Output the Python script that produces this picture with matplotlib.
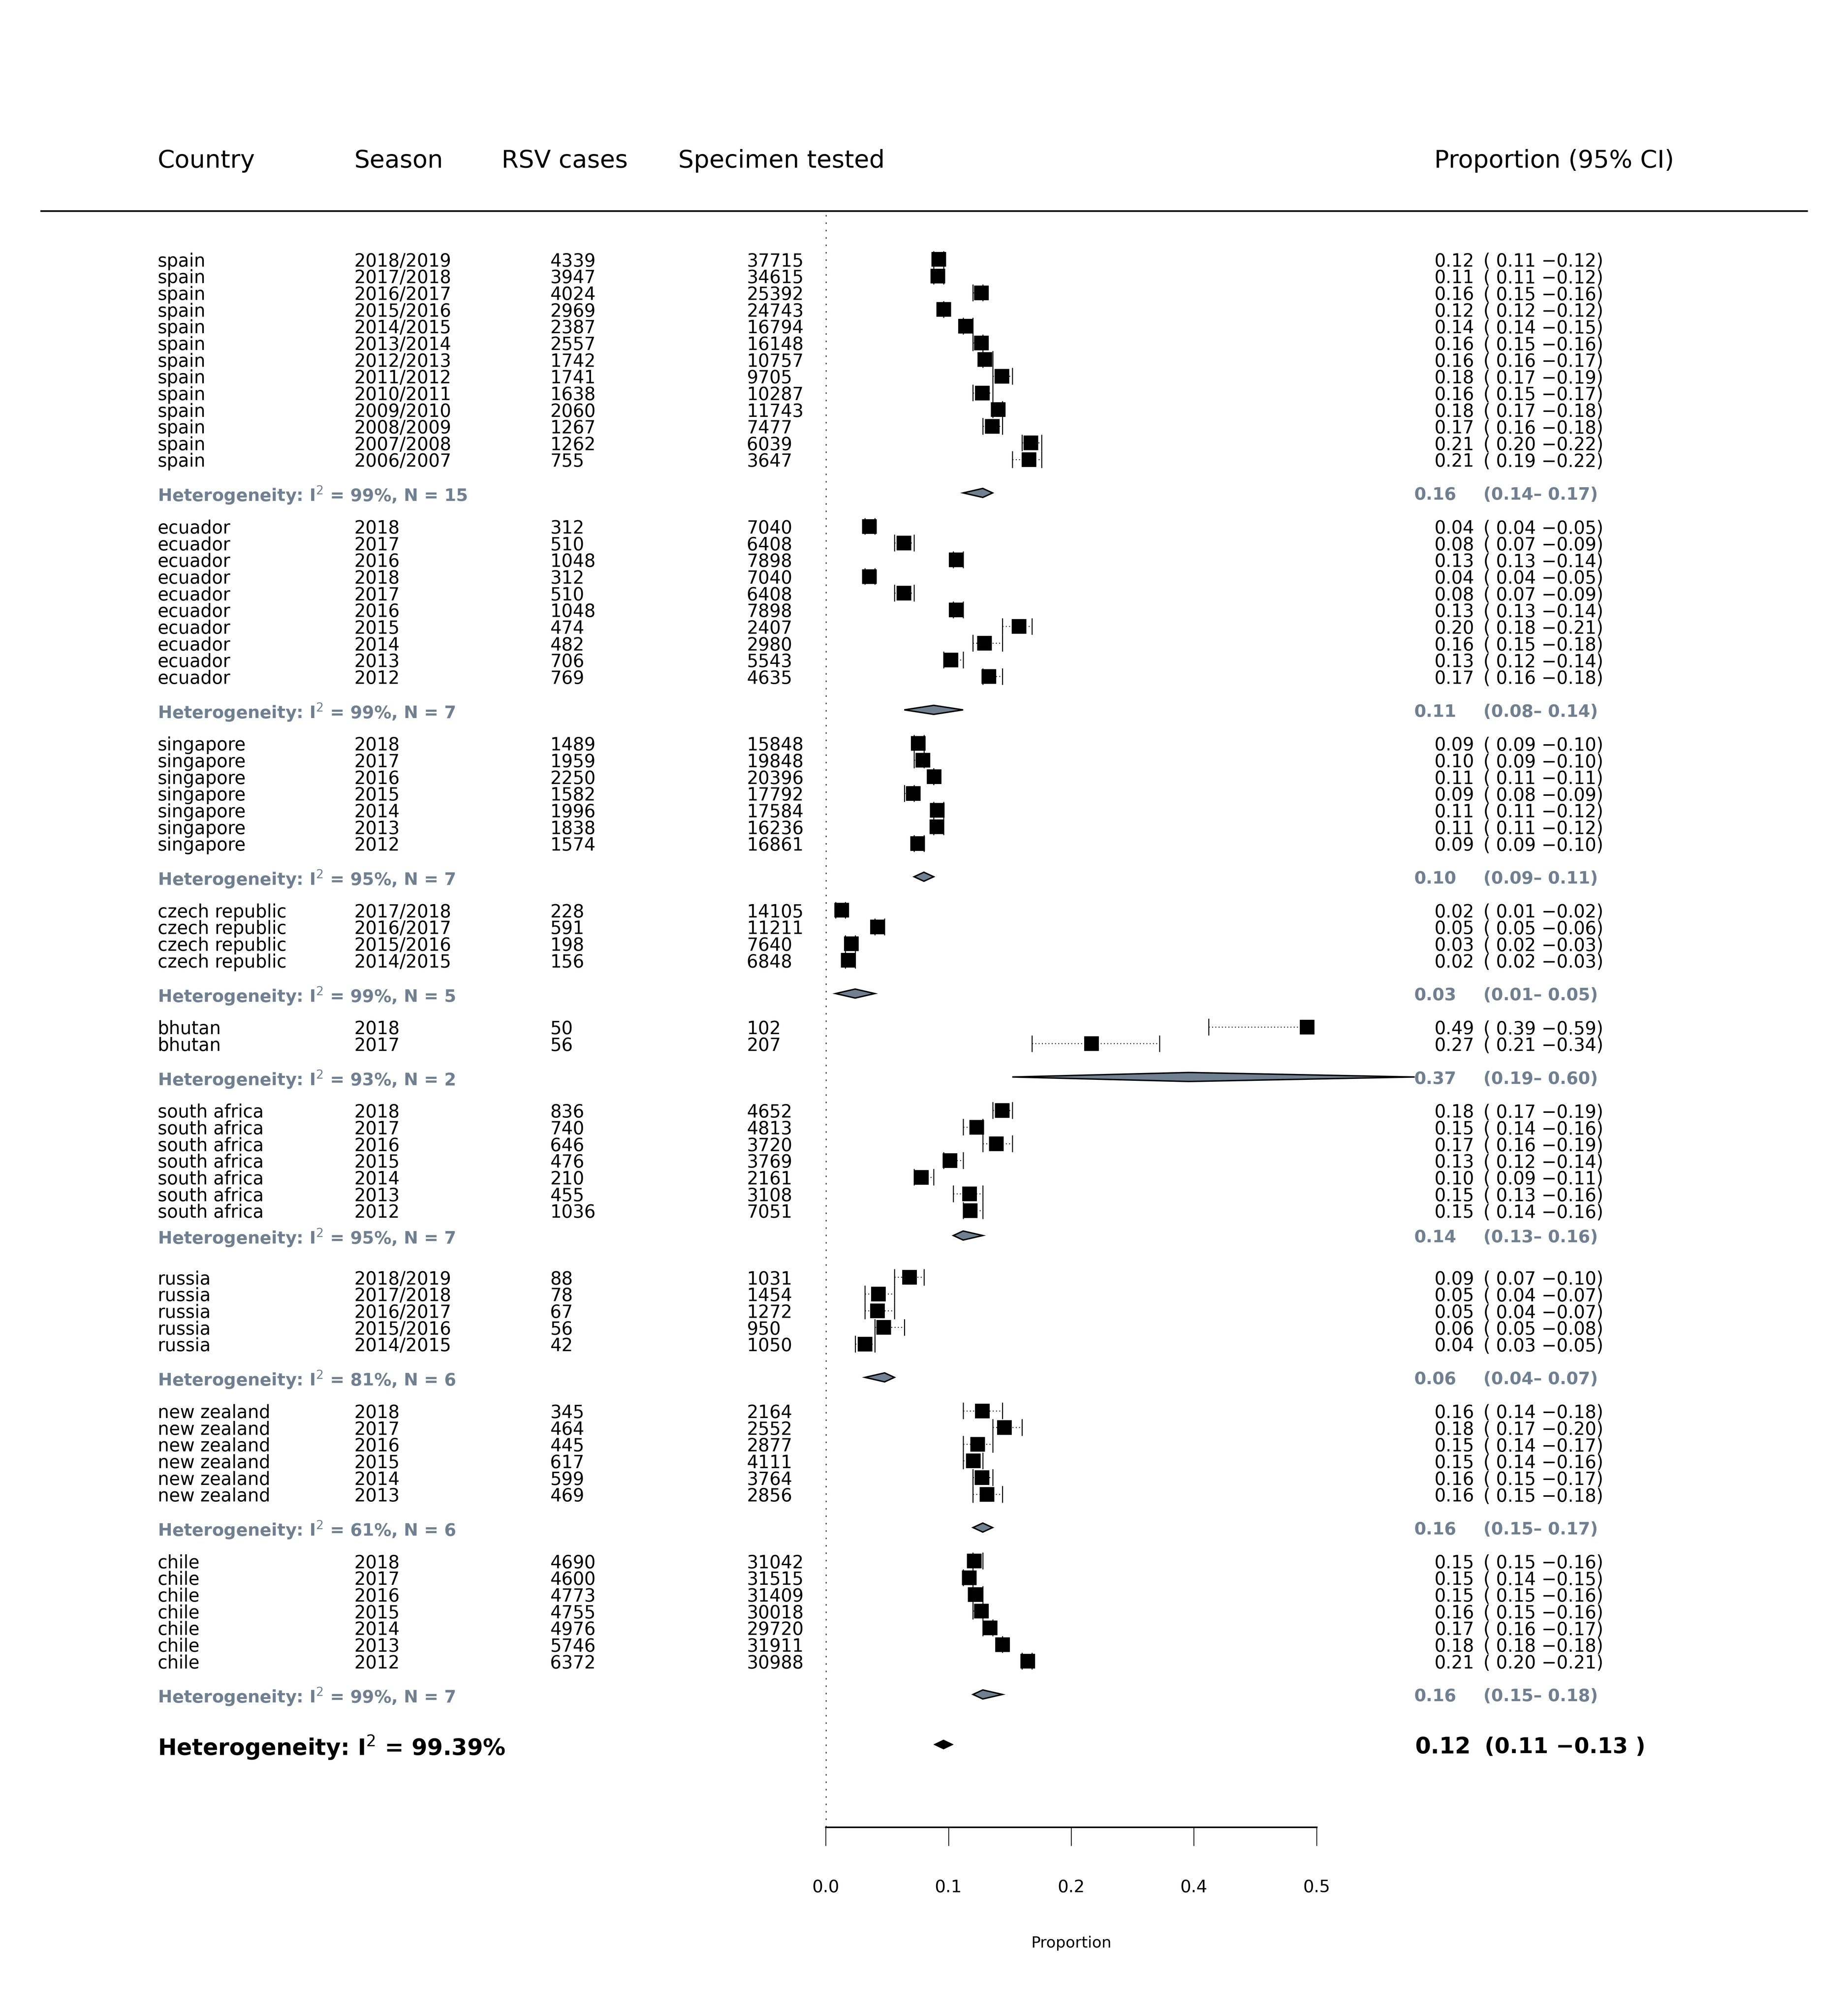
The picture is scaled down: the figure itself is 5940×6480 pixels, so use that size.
import numpy as np
import matplotlib
matplotlib.use("Agg")
import matplotlib.pyplot as plt
import matplotlib.transforms as mtransforms
from matplotlib.patches import Polygon
from matplotlib.lines import Line2D

plt.rcParams['font.family'] = ['DejaVu Sans']
plt.rcParams['mathtext.fontset'] = 'dejavusans'

# ------------------------------------------------------------
# data
# ------------------------------------------------------------
countries = ["spain", "ecuador", "singapore", "czech republic", "bhutan",
             "south africa", "russia", "new zealand", "chile"]

seasons = [
    ["2018/2019", "2017/2018", "2016/2017", "2015/2016", "2014/2015", "2013/2014",
     "2012/2013", "2011/2012", "2010/2011", "2009/2010", "2008/2009", "2007/2008",
     "2006/2007"],
    ["2018", "2017", "2016", "2018", "2017", "2016", "2015", "2014", "2013", "2012"],
    ["2018", "2017", "2016", "2015", "2014", "2013", "2012"],
    ["2017/2018", "2016/2017", "2015/2016", "2014/2015"],
    ["2018", "2017"],
    ["2018", "2017", "2016", "2015", "2014", "2013", "2012"],
    ["2018/2019", "2017/2018", "2016/2017", "2015/2016", "2014/2015"],
    ["2018", "2017", "2016", "2015", "2014", "2013"],
    ["2018", "2017", "2016", "2015", "2014", "2013", "2012"],
]

rsv_cases = [
    [4339, 3947, 4024, 2969, 2387, 2557, 1742, 1741, 1638, 2060, 1267, 1262, 755],
    [312, 510, 1048, 312, 510, 1048, 474, 482, 706, 769],
    [1489, 1959, 2250, 1582, 1996, 1838, 1574],
    [228, 591, 198, 156],
    [50, 56],
    [836, 740, 646, 476, 210, 455, 1036],
    [88, 78, 67, 56, 42],
    [345, 464, 445, 617, 599, 469],
    [4690, 4600, 4773, 4755, 4976, 5746, 6372],
]

specimens = [
    [37715, 34615, 25392, 24743, 16794, 16148, 10757, 9705, 10287, 11743, 7477, 6039, 3647],
    [7040, 6408, 7898, 7040, 6408, 7898, 2407, 2980, 5543, 4635],
    [15848, 19848, 20396, 17792, 17584, 16236, 16861],
    [14105, 11211, 7640, 6848],
    [102, 207],
    [4652, 4813, 3720, 3769, 2161, 3108, 7051],
    [1031, 1454, 1272, 950, 1050],
    [2164, 2552, 2877, 4111, 3764, 2856],
    [31042, 31515, 31409, 30018, 29720, 31911, 30988],
]

prop_est = [
    [0.12, 0.11, 0.16, 0.12, 0.14, 0.16, 0.16, 0.18, 0.16, 0.18, 0.17, 0.21, 0.21],
    [0.04, 0.08, 0.13, 0.04, 0.08, 0.13, 0.20, 0.16, 0.13, 0.17],
    [0.09, 0.10, 0.11, 0.09, 0.11, 0.11, 0.09],
    [0.02, 0.05, 0.03, 0.02],
    [0.49, 0.27],
    [0.18, 0.15, 0.17, 0.13, 0.10, 0.15, 0.15],
    [0.09, 0.05, 0.05, 0.06, 0.04],
    [0.16, 0.18, 0.15, 0.15, 0.16, 0.16],
    [0.15, 0.15, 0.15, 0.16, 0.17, 0.18, 0.21],
]

prop_lo = [
    [0.11, 0.11, 0.15, 0.12, 0.14, 0.15, 0.16, 0.17, 0.15, 0.17, 0.16, 0.20, 0.19],
    [0.04, 0.07, 0.13, 0.04, 0.07, 0.13, 0.18, 0.15, 0.12, 0.16],
    [0.09, 0.09, 0.11, 0.08, 0.11, 0.11, 0.09],
    [0.01, 0.05, 0.02, 0.02],
    [0.39, 0.21],
    [0.17, 0.14, 0.16, 0.12, 0.09, 0.13, 0.14],
    [0.07, 0.04, 0.04, 0.05, 0.03],
    [0.14, 0.17, 0.14, 0.14, 0.15, 0.15],
    [0.15, 0.14, 0.15, 0.15, 0.16, 0.18, 0.20],
]

prop_hi = [
    [0.12, 0.12, 0.16, 0.12, 0.15, 0.16, 0.17, 0.19, 0.17, 0.18, 0.18, 0.22, 0.22],
    [0.05, 0.09, 0.14, 0.05, 0.09, 0.14, 0.21, 0.18, 0.14, 0.18],
    [0.10, 0.10, 0.11, 0.09, 0.12, 0.12, 0.10],
    [0.02, 0.06, 0.03, 0.03],
    [0.59, 0.34],
    [0.19, 0.16, 0.19, 0.14, 0.11, 0.16, 0.16],
    [0.10, 0.07, 0.07, 0.08, 0.05],
    [0.18, 0.20, 0.17, 0.16, 0.17, 0.18],
    [0.16, 0.15, 0.16, 0.16, 0.17, 0.18, 0.21],
]

# subgroup pooled results
sub_i2 = [99, 99, 95, 99, 93, 95, 81, 61, 99]
sub_n = [15, 7, 7, 5, 2, 7, 6, 6, 7]
sub_est = [0.16, 0.11, 0.10, 0.03, 0.37, 0.14, 0.06, 0.16, 0.16]
sub_lo = [0.14, 0.08, 0.09, 0.01, 0.19, 0.13, 0.04, 0.15, 0.15]
sub_hi = [0.17, 0.14, 0.11, 0.05, 0.60, 0.16, 0.07, 0.17, 0.18]

# overall
overall_i2 = "99.39%"
overall_est, overall_lo, overall_hi = 0.12, 0.11, 0.13

tick_pos = [0.0, 0.125, 0.25, 0.375, 0.5]
tick_lab = ["0.0", "0.1", "0.2", "0.4", "0.5"]

# ------------------------------------------------------------
# figure layout (positions worked out on a 6601 x 7201 canvas)
# ------------------------------------------------------------
W, H = 6601, 7201
fig = plt.figure(figsize=(W / 100, H / 100), dpi=90)
fig.patch.set_facecolor("white")

ax = fig.add_axes([2949 / W, (H - 6527) / H, 1753 / W, (6527 - 754) / H])
ax.set_xlim(0, 0.5)
ax.set_ylim(93.96, -2.903)
for s in ["top", "left", "right"]:
    ax.spines[s].set_visible(False)
ax.spines["bottom"].set_linewidth(4)
ax.set_yticks([])
ax.set_xticks(tick_pos)
ax.set_xticklabels(tick_lab)
ax.tick_params(axis="x", direction="out", length=48, width=2, pad=84, labelsize=44)
ax.set_xlabel("Proportion", fontsize=40)
ax.xaxis.set_label_coords(0.5, -0.0715)
ax.xaxis.label.set_va("center")

tr = mtransforms.blended_transform_factory(fig.transFigure, ax.transData)
slate = "#708090"

col_country, col_season, col_cases, col_tested = 563 / W, 1265 / W, 1965 / W, 2667 / W
col_val, col_ci, col_subval = 5122 / W, 5298 / W, 5050 / W

# header
hdr_y = -6.07
for x, lab in [(563, "Country"), (1265, "Season"), (1791, "RSV cases"),
               (2422, "Specimen tested"), (5122, "Proportion (95% CI)")]:
    ax.text(x / W, hdr_y, lab, transform=tr, fontsize=63, ha="left",
            va="center_baseline", clip_on=False)
ax.add_line(Line2D([147 / W, 6453 / W], [-2.903, -2.903], transform=tr,
                   color="black", lw=4.3, clip_on=False))

# reference line at zero
ax.axvline(0, color="black", lw=3.8, linestyle=(0, (1, 4)), zorder=1)

row_fs = 46
het_gap = [2, 2, 2, 2, 2, 1.5, 2, 2, 2]
y0 = 0
for g, name in enumerate(countries):
    n = len(rsv_cases[g])
    ys = y0 + np.arange(n)
    p = np.array(rsv_cases[g]) / np.array(specimens[g])
    lo = np.array(prop_lo[g])
    hi = np.array(prop_hi[g])
    hi_clip = np.minimum(hi, 0.5)

    ax.hlines(ys, lo, hi_clip, colors="black", lw=2.4, linestyles=(0, (1, 2.5)), zorder=2)
    ax.vlines(lo, ys - 0.5, ys + 0.5, colors="black", lw=2.6, zorder=2)
    keep = hi <= 0.5
    ax.vlines(hi[keep], ys[keep] - 0.5, ys[keep] + 0.5, colors="black", lw=2.6, zorder=2)
    ax.plot(p, ys, "s", ms=37, color="black", zorder=3, clip_on=False)

    for i in range(n):
        yy = ys[i]
        ax.text(col_country, yy, name, transform=tr, fontsize=row_fs, va="center_baseline")
        ax.text(col_season, yy, seasons[g][i], transform=tr, fontsize=row_fs, va="center_baseline")
        ax.text(col_cases, yy, str(rsv_cases[g][i]), transform=tr, fontsize=row_fs, va="center_baseline")
        ax.text(col_tested, yy, str(specimens[g][i]), transform=tr, fontsize=row_fs, va="center_baseline")
        ax.text(col_val, yy, f"{prop_est[g][i]:.2f}", transform=tr, fontsize=row_fs, va="center_baseline")
        ax.text(col_ci, yy, f"( {prop_lo[g][i]:.2f} \u2212{prop_hi[g][i]:.2f})", transform=tr,
                fontsize=row_fs, va="center_baseline")

    hy = ys[-1] + het_gap[g]
    ax.text(col_country, hy, f"Heterogeneity: I$^{{\\mathrm{{2}}}}$ = {sub_i2[g]}%, N = {sub_n[g]}",
            transform=tr, fontsize=44, fontweight="bold", color=slate, va="center_baseline")
    ax.text(col_subval, hy, f"{sub_est[g]:.2f}", transform=tr, fontsize=44,
            fontweight="bold", color=slate, va="center_baseline")
    ax.text(col_ci, hy, f"({sub_lo[g]:.2f}\u2013 {sub_hi[g]:.2f})", transform=tr, fontsize=44,
            fontweight="bold", color=slate, va="center_baseline")
    dh = 0.27
    ax.add_patch(Polygon([(sub_lo[g], hy), (sub_est[g], hy - dh), (sub_hi[g], hy),
                          (sub_est[g], hy + dh)], closed=True, facecolor=slate,
                         edgecolor="black", lw=3.6, zorder=4, clip_on=False))
    last_het = hy
    y0 = ys[-1] + 4

# overall
oy = last_het + 3
ax.text(col_country, oy, f"Heterogeneity: I$^{{\\mathrm{{2}}}}$ = {overall_i2}", transform=tr,
        fontsize=58, fontweight="bold", va="center_baseline")
ax.text(5054 / W, oy, f"{overall_est:.2f}", transform=tr, fontsize=58,
        fontweight="bold", va="center_baseline")
ax.text(5302 / W, oy, f"({overall_lo:.2f} \u2212{overall_hi:.2f} )", transform=tr, fontsize=56,
        fontweight="bold", va="center_baseline")
ax.add_patch(Polygon([(overall_lo, oy), (overall_est, oy - 0.28), (overall_hi, oy),
                      (overall_est, oy + 0.28)], closed=True, facecolor="black",
                     edgecolor="black", lw=1, zorder=4))

fig.savefig("out.png", dpi=90, facecolor="white")
